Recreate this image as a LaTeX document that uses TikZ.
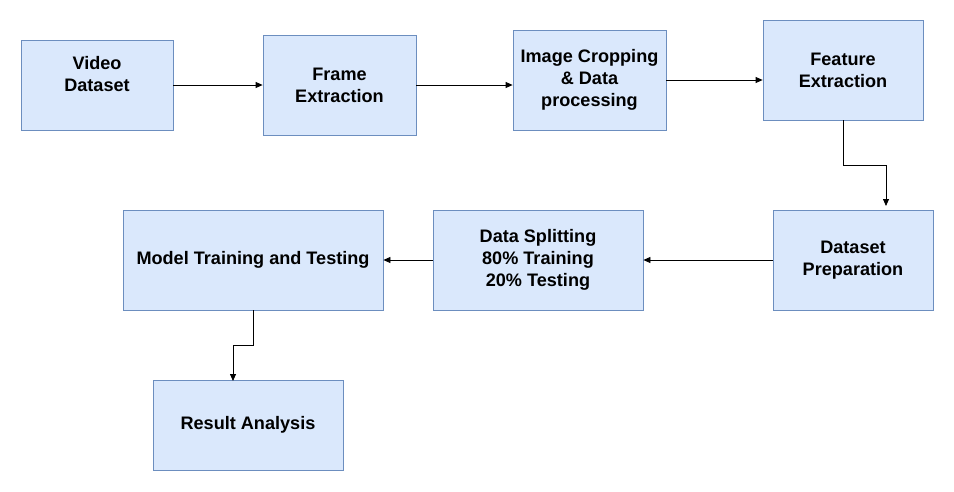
\documentclass[tikz,border=0pt]{standalone}
\usepackage{fontspec}
\setmainfont{Liberation Sans}
\usetikzlibrary{arrows.meta}
\definecolor{boxfill}{HTML}{DAE8FC}
\definecolor{boxdraw}{HTML}{6C8EBF}
\begin{document}
\begin{tikzpicture}[x=1pt,y=-1pt,
  box/.style={draw=boxdraw,fill=boxfill,line width=0.8pt,align=center,inner sep=0pt,
    font=\fontsize{18.1}{22}\selectfont\bfseries},
  conn/.style={draw=black,line width=0.8pt,-{Triangle[length=7pt,width=6pt]}}]
\useasboundingbox (0,0) rectangle (954,491);
\fill[white] (0,0) rectangle (954,491);
\node[box,minimum width=152pt,minimum height=90pt] (v) at (97,85) {Video\\Dataset\\\mbox{}};
\node[box,minimum width=153pt,minimum height=100pt] (f) at (339.5,85) {Frame\\Extraction};
\node[box,minimum width=153pt,minimum height=100pt] (i) at (589.5,80) {Image Cropping\\\& Data\\processing};
\node[box,minimum width=160pt,minimum height=100pt] (fe) at (843,70) {Feature\\Extraction};
\node[box,minimum width=160pt,minimum height=100pt] (dp) at (853,260) {Dataset\\Preparation};
\node[box,minimum width=210pt,minimum height=100pt] (ds) at (538,260) {Data Splitting\\80\% Training\\20\% Testing};
\node[box,minimum width=260pt,minimum height=100pt] (m) at (253,260) {Model Training and Testing};
\node[box,minimum width=190pt,minimum height=90pt] (r) at (248,425) {Result Analysis};
\coordinate (fe1) at (843,165);
\coordinate (fe2) at (886,165);
\coordinate (fe3) at (886,206);
\coordinate (m1) at (253,345);
\coordinate (m2) at (233,345);
\coordinate (m3) at (233,381);
\draw[conn] (v.east) -- (f.west |- v.east);
\draw[conn] (f.east) -- (i.west |- f.east);
\draw[conn] (i.east) -- (fe.west |- i.east);
\draw[conn] (fe.south) -- (fe1) -- (fe2) -- (fe3);
\draw[conn] (dp.west) -- (ds.east);
\draw[conn] (ds.west) -- (m.east);
\draw[conn] (m.south) -- (m1) -- (m2) -- (m3);
\end{tikzpicture}
\end{document}
